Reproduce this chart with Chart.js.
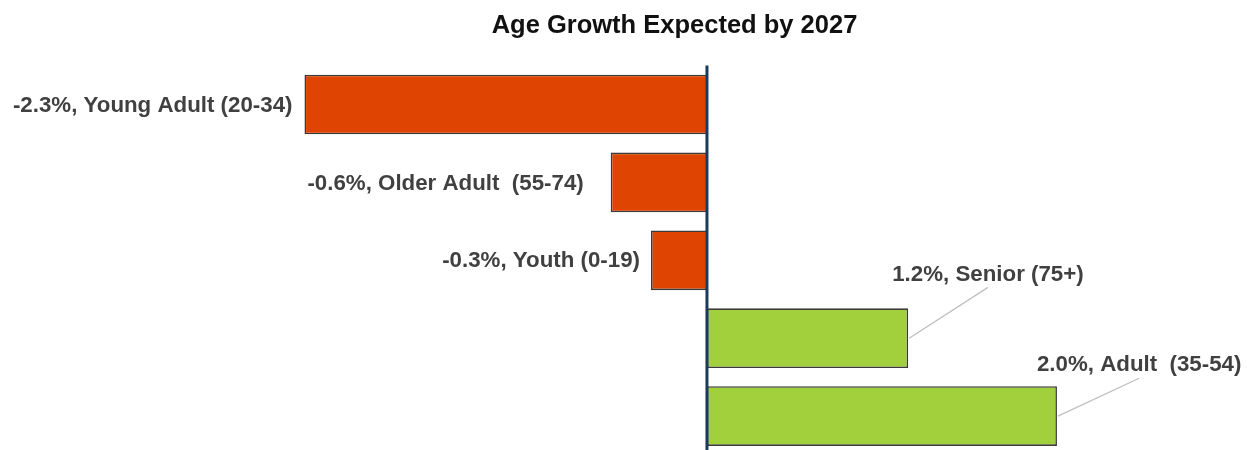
<!DOCTYPE html>
<html>
<head>
<meta charset="utf-8">
<title>Age Growth Expected by 2027</title>
<script src="https://cdn.jsdelivr.net/npm/chart.js@4.4.1/dist/chart.umd.min.js"></script>
<style>
    html, body { margin: 0; padding: 0; background: #fff; overflow: hidden; }
    /* a few px taller than the window: the last bar sits close to the bottom edge */
    #wrap { position: relative; width: 1247px; height: 455px; }
</style>
</head>
<body>
<div id="wrap"><canvas id="ageGrowth"></canvas></div>
<script>
// age groups, top to bottom
const ageGroups = ["Young Adult (20-34)", "Older Adult  (55-74)", "Youth (0-19)", "Senior (75+)", "Adult  (35-54)"];
// growth in %
const growthValues = [-2.3, -0.55, -0.32, 1.15, 2.0];
// the percentages as printed in the labels
const growthLabels = ["-2.3%", "-0.6%", "-0.3%", "1.2%", "2.0%"];

const labelFont = "bold 22.3px 'Liberation Sans', Arial, sans-serif";
const labelColor = "#404040";
// label nudges (px): negative bars -> gap left of bar end, positive bars -> [dx, dy from bar top]
const negGap = [12, 27, 11];
const posNudge = { 3: [-16, -35], 4: [-20, -22] };

document.addEventListener("DOMContentLoaded", function () {
    // draws the zero line, the data labels and the leader lines
    const barLabels = {
        id: "barLabels",
        afterDatasetsDraw(chart) {
            let ctx = chart.ctx;
            let xScale = chart.scales.x;
            let area = chart.chartArea;
            let zeroX = xScale.getPixelForValue(0);

            ctx.save();
            // zero axis line
            ctx.strokeStyle = "#1b3a5c";
            ctx.lineWidth = 3;
            ctx.beginPath();
            ctx.moveTo(zeroX, area.top);
            ctx.lineTo(zeroX, chart.height);
            ctx.stroke();

            ctx.font = labelFont;
            ctx.fillStyle = labelColor;
            ctx.textBaseline = "middle";

            let meta = chart.getDatasetMeta(0);
            meta.data.forEach((bar, i) => {
                let { x, y, height } = bar.getProps(["x", "y", "height"], true);
                let text = `${growthLabels[i]}, ${ageGroups[i]}`;
                if (growthValues[i] < 0) {
                    ctx.textAlign = "right";
                    ctx.fillText(text, x - negGap[i], y + 1);
                } else {
                    let [dx, dy] = posNudge[i] || [-16, -30];
                    let top = y - height / 2;
                    let tx = x + dx;
                    let ty = top + dy;
                    let w = ctx.measureText(text).width;
                    ctx.textAlign = "left";
                    ctx.fillText(text, tx, ty + 1);
                    // leader line from bar end to under the label
                    ctx.strokeStyle = "#bfbfbf";
                    ctx.lineWidth = 1.3;
                    ctx.beginPath();
                    ctx.moveTo(x + 1, y);
                    ctx.lineTo(tx + w / 2, ty + 14);
                    ctx.stroke();
                }
            });
            ctx.restore();
        }
    };

    let ctx = document.getElementById("ageGrowth").getContext("2d");

    window.ageChart = new Chart(ctx, {
        type: "bar",
        data: {
            labels: ageGroups,
            datasets: [{
                data: growthValues,
                backgroundColor: growthValues.map(v => v < 0 ? "#df4402" : "#a2cf3c"),
                borderColor: "#3a3a3a",
                borderWidth: 1.6,
                borderSkipped: false,
                categoryPercentage: 0.766,
                barPercentage: 1.0
            }]
        },
        options: {
            indexAxis: "y",
            responsive: true,
            maintainAspectRatio: false,
            animation: false,
            layout: { padding: { left: 102, right: 0, top: 0, bottom: 0 } },
            scales: {
                x: { display: false, min: -3.457, max: 3.086 },
                y: { display: false }
            },
            plugins: {
                legend: { display: false },
                tooltip: { enabled: false },
                title: {
                    display: true,
                    text: "Age Growth Expected by 2027",
                    color: "#111",
                    font: { family: "'Liberation Sans', Arial, sans-serif", size: 25.5, weight: "bold" },
                    padding: { top: 11, bottom: 24 }
                }
            }
        },
        plugins: [barLabels]
    });
});
</script>
</body>
</html>
